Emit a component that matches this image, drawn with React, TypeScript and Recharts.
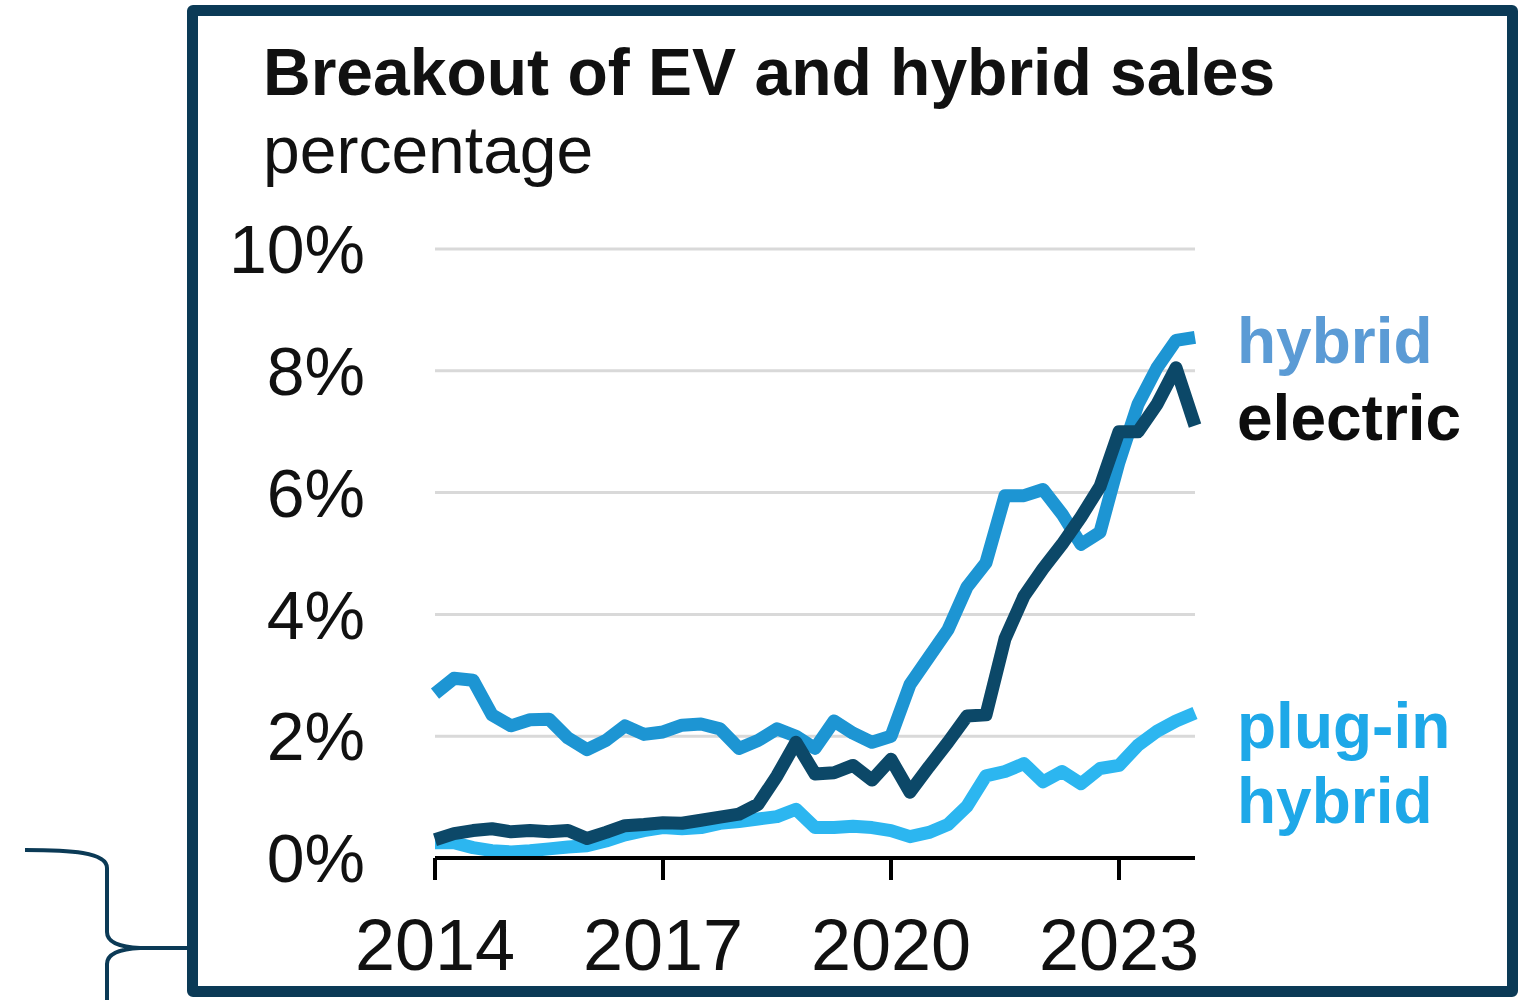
import { LineChart, Line, XAxis, YAxis, CartesianGrid } from "recharts";

const quarters = [
  "2014Q1", "2014Q2", "2014Q3", "2014Q4",
  "2015Q1", "2015Q2", "2015Q3", "2015Q4",
  "2016Q1", "2016Q2", "2016Q3", "2016Q4",
  "2017Q1", "2017Q2", "2017Q3", "2017Q4",
  "2018Q1", "2018Q2", "2018Q3", "2018Q4",
  "2019Q1", "2019Q2", "2019Q3", "2019Q4",
  "2020Q1", "2020Q2", "2020Q3", "2020Q4",
  "2021Q1", "2021Q2", "2021Q3", "2021Q4",
  "2022Q1", "2022Q2", "2022Q3", "2022Q4",
  "2023Q1", "2023Q2", "2023Q3", "2023Q4",
  "2024Q1",
];

const hybrid = [
  2.7, 2.95, 2.92, 2.35, 2.17, 2.27, 2.28, 1.97, 1.78, 1.93, 2.17, 2.03,
  2.07, 2.18, 2.2, 2.12, 1.8, 1.93, 2.12, 2.0, 1.8, 2.25, 2.05, 1.9,
  2.0, 2.85, 3.3, 3.75, 4.45, 4.85, 5.95, 5.95, 6.05, 5.65, 5.15, 5.35,
  6.5, 7.45, 8.05, 8.5, 8.55,
];

const electric = [
  0.3, 0.4, 0.45, 0.48, 0.43, 0.45, 0.43, 0.45, 0.32, 0.42, 0.53, 0.55,
  0.58, 0.57, 0.62, 0.67, 0.72, 0.88, 1.35, 1.9, 1.38, 1.4, 1.52, 1.28,
  1.62, 1.08, 1.5, 1.9, 2.33, 2.35, 3.6, 4.3, 4.75, 5.15, 5.6, 6.1,
  7.0, 7.0, 7.45, 8.05, 7.1,
];

const plugin = [
  0.25, 0.25, 0.17, 0.12, 0.1, 0.12, 0.15, 0.18, 0.2, 0.28, 0.38, 0.45,
  0.5, 0.48, 0.5, 0.57, 0.6, 0.64, 0.68, 0.8, 0.5, 0.5, 0.52, 0.5,
  0.45, 0.35, 0.42, 0.55, 0.85, 1.35, 1.42, 1.55, 1.25, 1.42, 1.22, 1.47,
  1.52, 1.85, 2.08, 2.25, 2.38,
];

const yearTicks = ["2014Q1", "2017Q1", "2020Q1", "2023Q1"];
const pctTicks = [0, 2, 4, 6, 8, 10];

const data = quarters.map((q, i) => ({
  q,
  hybrid: hybrid[i],
  electric: electric[i],
  plugin: plugin[i],
}));

const FONT = '"Liberation Sans", Arial, sans-serif';
const NAVY = "#0b3a56";

const label = (top: number, color: string, text: string) => (
  <div
    style={{
      position: "absolute",
      left: 1237,
      top,
      fontFamily: FONT,
      fontWeight: 700,
      fontSize: 64,
      lineHeight: 1,
      color,
      whiteSpace: "nowrap",
    }}
  >
    {text}
  </div>
);

export default function App() {
  return (
    <div
      style={{
        position: "absolute",
        left: 0,
        top: 0,
        width: 1521,
        height: 1000,
        background: "#fff",
        overflow: "hidden",
        fontFamily: FONT,
      }}
    >
      {/* frame */}
      <div
        style={{
          position: "absolute",
          left: 187,
          top: 5,
          width: 1331,
          height: 992,
          border: `11px solid ${NAVY}`,
          borderRadius: 6,
          boxSizing: "border-box",
        }}
      />
      {/* brace on the left */}
      <svg width={200} height={1000} style={{ position: "absolute", left: 0, top: 0 }}>
        <path
          d="M25,850 C70,850 107,852 107,868 L107,932 C107,942 118,947 140,948 L188,948 M140,948 C118,949 107,954 107,964 L107,1000"
          fill="none"
          stroke={NAVY}
          strokeWidth={4}
        />
      </svg>

      <div
        style={{
          position: "absolute",
          left: 263,
          top: 39,
          fontSize: 66,
          fontWeight: 700,
          lineHeight: 1,
          color: "#111",
          whiteSpace: "nowrap",
        }}
      >
        Breakout of EV and hybrid sales
      </div>
      <div
        style={{
          position: "absolute",
          left: 263,
          top: 117,
          fontSize: 66,
          lineHeight: 1,
          color: "#111",
          whiteSpace: "nowrap",
        }}
      >
        percentage
      </div>

      <div style={{ position: "absolute", left: 0, top: 0 }}>
        <LineChart
          width={1521}
          height={1000}
          data={data}
          margin={{ top: 249, right: 326, bottom: 22, left: 215 }}
        >
          <CartesianGrid horizontal vertical={false} stroke="#d9d9d9" strokeWidth={3} />
          <XAxis
            dataKey="q"
            ticks={yearTicks}
            interval={0}
            tickFormatter={(v) => String(v).slice(0, 4)}
            height={120}
            axisLine={{ stroke: "#000", strokeWidth: 4 }}
            tickLine={{ stroke: "#000", strokeWidth: 4 }}
            tickSize={22}
            tickMargin={39}
            tick={{ fill: "#111", fontSize: 72, fontFamily: FONT }}
          />
          <YAxis
            type="number"
            domain={[0, 10]}
            ticks={pctTicks}
            tickFormatter={(v) => `${v}%`}
            width={220}
            axisLine={false}
            tickLine={false}
            tickSize={6}
            tickMargin={64}
            tick={{ fill: "#111", fontSize: 68, fontFamily: FONT }}
          />
          <Line
            dataKey="plugin"
            stroke="#2cb6f0"
            strokeWidth={13}
            dot={false}
            strokeLinejoin="round"
            isAnimationActive={false}
          />
          <Line
            dataKey="hybrid"
            stroke="#1d95d3"
            strokeWidth={13}
            dot={false}
            strokeLinejoin="round"
            isAnimationActive={false}
          />
          <Line
            dataKey="electric"
            stroke="#0c4868"
            strokeWidth={13}
            dot={false}
            strokeLinejoin="round"
            isAnimationActive={false}
          />
        </LineChart>
      </div>

      {label(309, "#5b9bd5", "hybrid")}
      {label(386, "#0d0d0d", "electric")}
      {label(694, "#1ea8e8", "plug-in")}
      {label(769, "#1ea8e8", "hybrid")}
    </div>
  );
}
